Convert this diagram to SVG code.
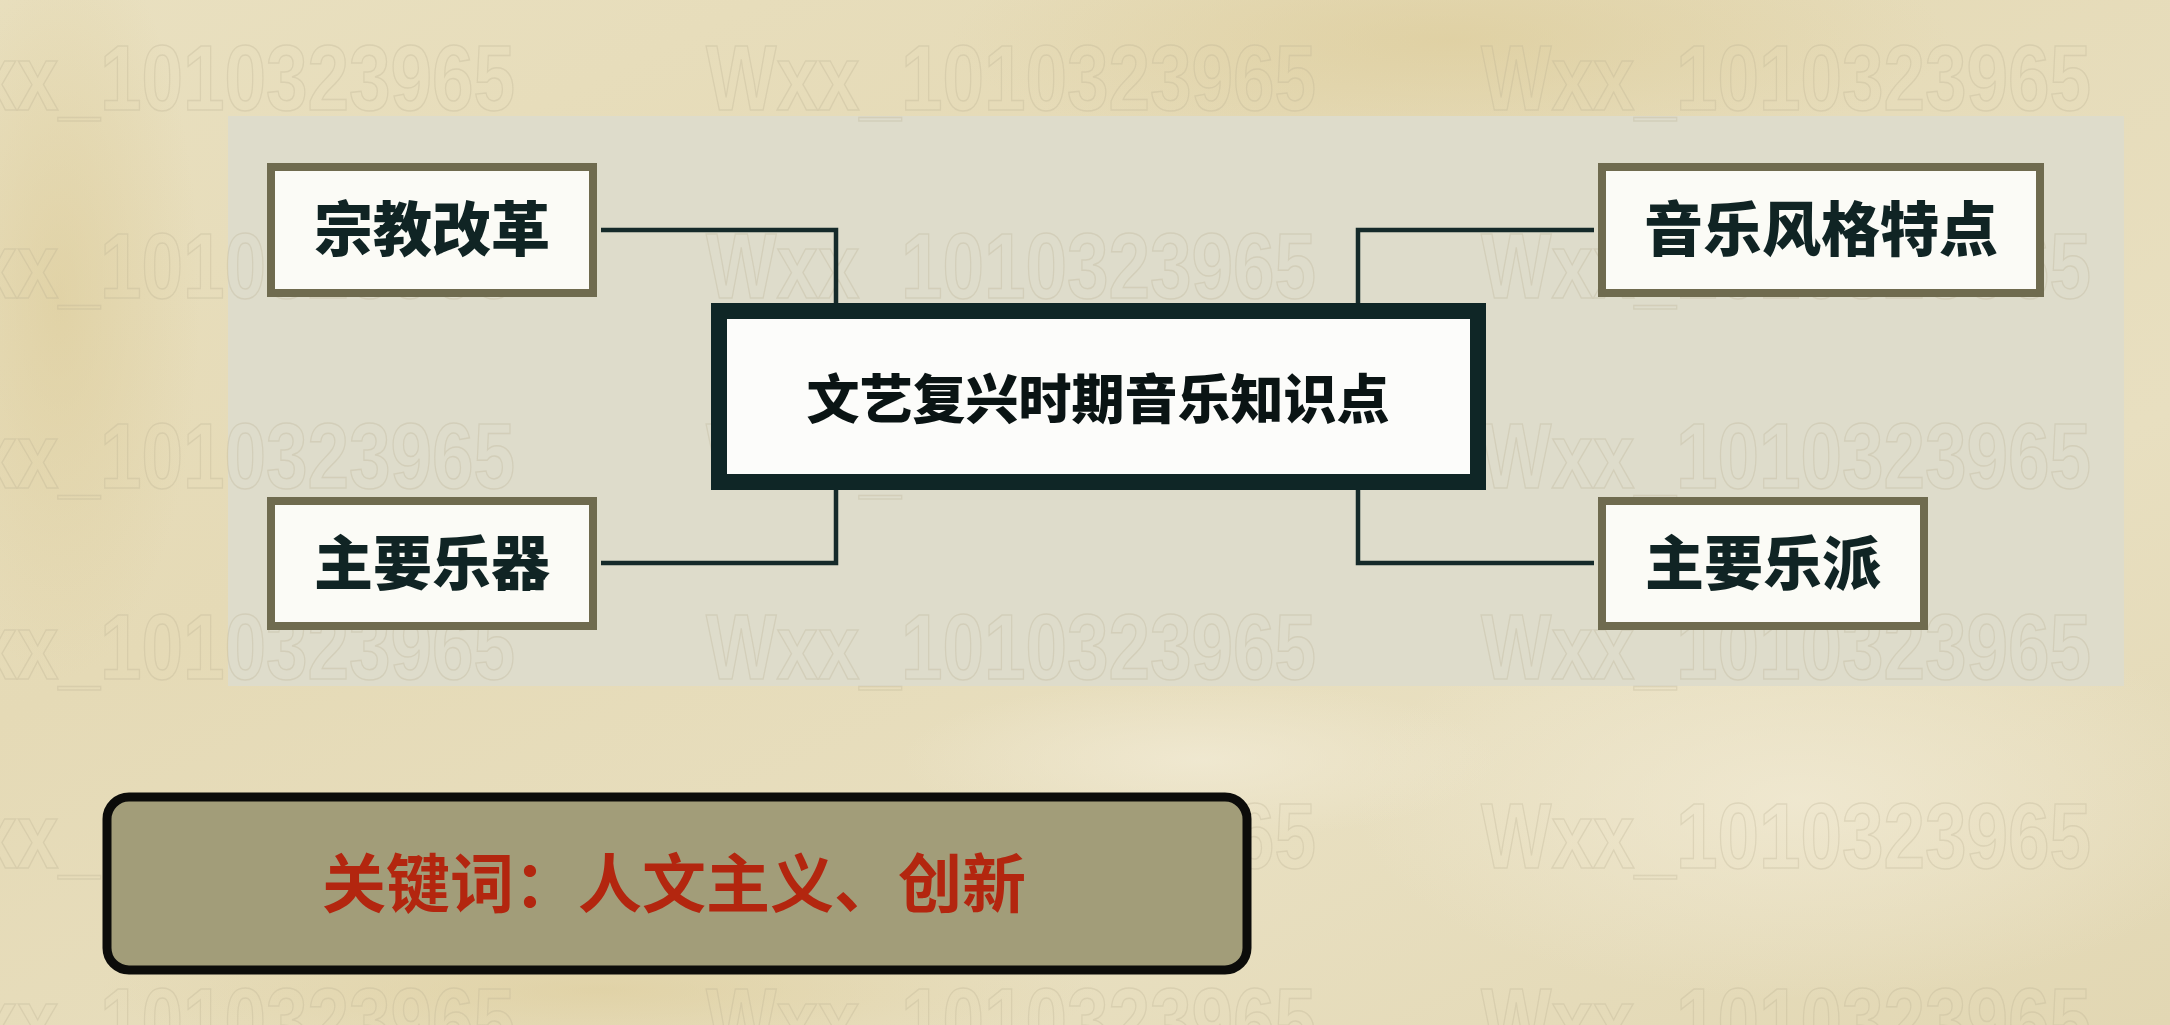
<svg xmlns="http://www.w3.org/2000/svg" width="2170" height="1025" viewBox="0 0 2170 1025">
  <defs>
    <linearGradient id="paper" x1="0" y1="0" x2="1" y2="1">
      <stop offset="0" stop-color="#e9e0c0"/>
      <stop offset="0.35" stop-color="#e5dab6"/>
      <stop offset="0.7" stop-color="#e8dfc0"/>
      <stop offset="1" stop-color="#e2d7b3"/>
    </linearGradient>
    <radialGradient id="stain1" cx="0.5" cy="0.5" r="0.5">
      <stop offset="0" stop-color="#dccb98" stop-opacity="0.6"/>
      <stop offset="1" stop-color="#dccb98" stop-opacity="0"/>
    </radialGradient>
    <radialGradient id="stain2" cx="0.5" cy="0.5" r="0.5">
      <stop offset="0" stop-color="#f1ead4" stop-opacity="0.8"/>
      <stop offset="1" stop-color="#f1ead4" stop-opacity="0"/>
    </radialGradient>
    <style>
      .leaf rect { fill: #fbfbf6; stroke: #6f6b4f; stroke-width: 8; }
      .leaf text { font-family: "Noto Sans CJK SC", "Noto Sans", sans-serif; font-weight: 900; font-size: 59px; fill: #102424; text-anchor: middle; }
      .hub rect { fill: #fcfcfa; stroke: #0f2626; stroke-width: 16; }
      .hub text { font-family: "Noto Sans CJK SC", "Noto Sans", sans-serif; font-weight: 900; font-size: 53px; fill: #0a1414; text-anchor: middle; }
      .link { fill: none; stroke: #152a2a; stroke-width: 4.5; }
      .wm { font-family: "Liberation Sans", "DejaVu Sans", sans-serif; font-weight: bold; font-size: 92px; fill: none; stroke: #b9b091; stroke-width: 1.5; stroke-opacity: 0.3; }
      .key rect { fill: #a29d79; stroke: #0c0c0a; stroke-width: 9; }
      .key text { font-family: "Liberation Serif", "Noto Sans CJK SC", serif; font-weight: 600; font-size: 64px; fill: #b3260f; text-anchor: middle; }
    </style>
  </defs>

  <!-- parchment background -->
  <rect x="0" y="0" width="2170" height="1025" fill="url(#paper)"/>
  <ellipse cx="1450" cy="40" rx="500" ry="120" fill="url(#stain1)"/>
  <ellipse cx="60" cy="300" rx="140" ry="380" fill="url(#stain1)"/>
  <ellipse cx="1800" cy="800" rx="450" ry="200" fill="url(#stain2)"/>
  <ellipse cx="600" cy="990" rx="500" ry="80" fill="url(#stain1)"/>
  <ellipse cx="1200" cy="760" rx="300" ry="80" fill="url(#stain2)"/>

  <!-- pale panel behind the chart -->
  <rect x="228" y="116" width="1896" height="570" fill="#dedccb"/>

  <!-- repeated outline watermark -->
  <g id="watermark">
    <text class="wm" x="-95" y="110" textLength="610" lengthAdjust="spacingAndGlyphs">Wxx_1010323965</text>
    <text class="wm" x="706" y="110" textLength="610" lengthAdjust="spacingAndGlyphs">Wxx_1010323965</text>
    <text class="wm" x="1481" y="110" textLength="610" lengthAdjust="spacingAndGlyphs">Wxx_1010323965</text>
    <text class="wm" x="-95" y="298" textLength="610" lengthAdjust="spacingAndGlyphs">Wxx_1010323965</text>
    <text class="wm" x="706" y="298" textLength="610" lengthAdjust="spacingAndGlyphs">Wxx_1010323965</text>
    <text class="wm" x="1481" y="298" textLength="610" lengthAdjust="spacingAndGlyphs">Wxx_1010323965</text>
    <text class="wm" x="-95" y="488" textLength="610" lengthAdjust="spacingAndGlyphs">Wxx_1010323965</text>
    <text class="wm" x="706" y="488" textLength="610" lengthAdjust="spacingAndGlyphs">Wxx_1010323965</text>
    <text class="wm" x="1481" y="488" textLength="610" lengthAdjust="spacingAndGlyphs">Wxx_1010323965</text>
    <text class="wm" x="-95" y="679" textLength="610" lengthAdjust="spacingAndGlyphs">Wxx_1010323965</text>
    <text class="wm" x="706" y="679" textLength="610" lengthAdjust="spacingAndGlyphs">Wxx_1010323965</text>
    <text class="wm" x="1481" y="679" textLength="610" lengthAdjust="spacingAndGlyphs">Wxx_1010323965</text>
    <text class="wm" x="-95" y="868" textLength="610" lengthAdjust="spacingAndGlyphs">Wxx_1010323965</text>
    <text class="wm" x="706" y="868" textLength="610" lengthAdjust="spacingAndGlyphs">Wxx_1010323965</text>
    <text class="wm" x="1481" y="868" textLength="610" lengthAdjust="spacingAndGlyphs">Wxx_1010323965</text>
    <text class="wm" x="-95" y="1053" textLength="610" lengthAdjust="spacingAndGlyphs">Wxx_1010323965</text>
    <text class="wm" x="706" y="1053" textLength="610" lengthAdjust="spacingAndGlyphs">Wxx_1010323965</text>
    <text class="wm" x="1481" y="1053" textLength="610" lengthAdjust="spacingAndGlyphs">Wxx_1010323965</text>
  </g>

  <!-- elbow connectors from the hub to each branch -->
  <g id="connectors">
    <path class="link" d="M 601 230 H 836 V 303"/>
    <path class="link" d="M 601 563 H 836 V 490"/>
    <path class="link" d="M 1594 230 H 1358 V 303"/>
    <path class="link" d="M 1594 563 H 1358 V 490"/>
  </g>

  <g id="hub" class="hub">
    <rect x="719" y="311" width="759" height="171"/>
    <text x="1098" y="419">文艺复兴时期音乐知识点</text>
  </g>

  <g id="node-reform" class="leaf">
    <rect x="271" y="167" width="322" height="126"/>
    <text x="432" y="251">宗教改革</text>
  </g>

  <g id="node-instruments" class="leaf">
    <rect x="271" y="501" width="322" height="125"/>
    <text x="432" y="585">主要乐器</text>
  </g>

  <g id="node-style" class="leaf">
    <rect x="1602" y="167" width="438" height="126"/>
    <text x="1821" y="251">音乐风格特点</text>
  </g>

  <g id="node-schools" class="leaf">
    <rect x="1602" y="501" width="322" height="125"/>
    <text x="1763" y="585">主要乐派</text>
  </g>

  <g id="keywords" class="key">
    <rect x="107" y="797" width="1140" height="173" rx="22" ry="22"/>
    <text x="674" y="907">关键词：人文主义、创新</text>
  </g>
</svg>
